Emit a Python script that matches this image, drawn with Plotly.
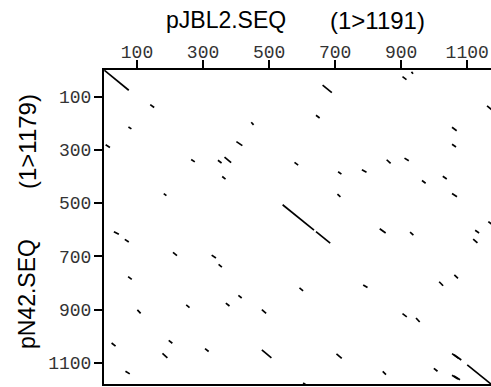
import plotly.graph_objects as go

# Dot-plot match segments (sequence pJBL2 position on x, pN42 position on y)
seg_x0 = [1, 140, 74, 446, 5, 401, 264, 345, 365, 358, 181, 577, 904, 931, 662, 1160, 642,
          1054, 1054, 856, 910, 781, 709, 963, 1026, 707, 1054, 541, 642, 835, 927, 1164,
          1124, 1118, 592, 785, 1015, 1061, 904, 945, 704, 844, 999, 1054, 1060, 1054, 1060,
          1100, 603, 30, 63, 209, 326, 347, 73, 407, 249, 369, 101, 478, 23, 196, 177, 306,
          478, 65]
seg_y0 = [1, 130, 214, 196, 281, 269, 336, 339, 327, 400, 464, 347, 25, 7, 57, 135, 170,
          215, 279, 337, 331, 375, 382, 415, 399, 466, 464, 506, 607, 596, 609, 569,
          602, 635, 818, 807, 795, 769, 915, 931, 1066, 1132, 1120, 1065, 1069, 1146, 1149,
          1107, 1175, 607, 636, 685, 695, 730, 776, 846, 882, 875, 901, 900, 1025, 1015, 1064, 1046,
          1051, 1131]
seg_x1 = [75, 152, 83, 453, 18, 419, 275, 356, 385, 368, 189, 588, 916, 936, 690, 1175, 653,
          1068, 1066, 868, 923, 795, 719, 974, 1038, 716, 1069, 636, 685, 853, 937, 1178,
          1136, 1131, 603, 798, 1027, 1072, 917, 956, 720, 854, 1010, 1074, 1082, 1072, 1078,
          1180, 616, 45, 75, 221, 339, 357, 84, 417, 259, 380, 111, 491, 35, 207, 192, 317,
          507, 78]
seg_y1 = [76, 141, 221, 206, 291, 284, 345, 349, 348, 410, 472, 357, 36, 14, 85, 150, 180,
          228, 289, 351, 341, 384, 391, 425, 409, 476, 476, 601, 650, 612, 620, 583,
          612, 649, 829, 817, 810, 782, 927, 946, 1083, 1144, 1131, 1083, 1089, 1160, 1163,
          1187, 1186, 617, 646, 697, 706, 740, 786, 856, 892, 886, 914, 914, 1037, 1026, 1081, 1057,
          1081, 1141]

tick_vals = [100, 300, 500, 700, 900, 1100]
tick_text = [str(v) for v in tick_vals]

x_title = ["pJBL2.SEQ", "(1>1191)"]
y_title = ["pN42.SEQ", "(1>1179)"]

xs, ys = [], []
for a, b, c, d in zip(seg_x0, seg_y0, seg_x1, seg_y1):
    xs += [a, c, None]
    ys += [b, d, None]

fig = go.Figure()
fig.add_trace(go.Scatter(x=xs, y=ys, mode="lines",
                         line=dict(color="black", width=1.7),
                         hoverinfo="skip", showlegend=False))

W, H = 491, 387
L, R, T, B = 104, 0, 70, 3

tickfont = dict(family="Liberation Mono", size=18, color="#333")
fig.update_layout(
    width=W, height=H,
    margin=dict(l=L, r=R, t=T, b=B),
    paper_bgcolor="white", plot_bgcolor="white",
    xaxis=dict(side="top", range=[0, 1172], tickvals=tick_vals, ticktext=tick_text,
               ticks="outside", ticklen=8, tickwidth=1.5, tickcolor="black",
               ticklabelstandoff=-5,
               showline=True, linewidth=2, linecolor="black", mirror=True,
               showgrid=False, zeroline=False, tickfont=tickfont),
    yaxis=dict(range=[1179, 0], tickvals=tick_vals, ticktext=tick_text,
               ticks="outside", ticklen=8, tickwidth=1.5, tickcolor="black",
               ticklabelstandoff=-1,
               showline=True, linewidth=2, linecolor="black", mirror=False,
               showgrid=False, zeroline=False, tickfont=tickfont),
)

pw = W - L - R
ph = H - T - B
def px(xp):
    return (xp - L) / pw
def py(yp):
    return 1 - (yp - T) / ph

tfont = dict(family="Liberation Sans", size=23, color="black")
tfont2 = dict(family="Liberation Sans", size=24, color="black")
fig.add_annotation(text=x_title[0], x=px(226), y=py(20), xref="paper", yref="paper",
                   showarrow=False, font=tfont, xanchor="center", yanchor="middle")
fig.add_annotation(text=x_title[1], x=px(377), y=py(20), xref="paper", yref="paper",
                   showarrow=False, font=tfont2, xanchor="center", yanchor="middle")
fig.add_annotation(text=y_title[0], x=px(27), y=py(294), xref="paper", yref="paper",
                   showarrow=False, font=tfont, xanchor="center", yanchor="middle", textangle=-90)
fig.add_annotation(text=y_title[1], x=px(27), y=py(142), xref="paper", yref="paper",
                   showarrow=False, font=tfont2, xanchor="center", yanchor="middle", textangle=-90)

fig.write_html("out.html", config={"displayModeBar": False},
               post_script="document.body.style.margin='0';document.body.style.overflow='hidden';")
